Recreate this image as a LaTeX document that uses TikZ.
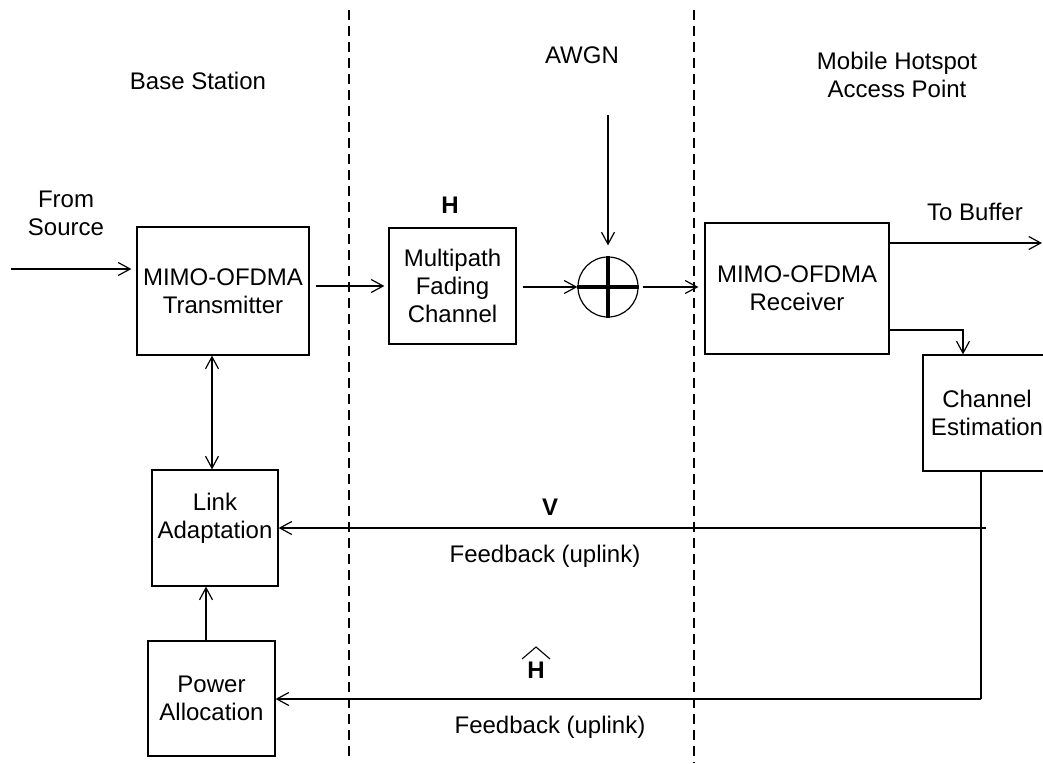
\documentclass[tikz,border=0pt]{standalone}
\usepackage{fontspec}
\setmainfont{Liberation Sans}
\usetikzlibrary{arrows.meta}
\tikzset{
  block/.style={draw, line width=1.2pt, align=center, inner sep=0pt},
  flow/.style={-{Straight Barb[length=12pt,width=13pt]}, line width=1.2pt},
  biflow/.style={{Straight Barb[length=12pt,width=13pt]}-{Straight Barb[length=12pt,width=13pt]}, line width=1.2pt},
  border/.style={dash pattern=on 10pt off 6pt, line width=1.2pt},
}
\begin{document}
\begin{tikzpicture}[x=1pt, y=-1pt, font=\fontsize{24}{28}\selectfont]
  \useasboundingbox (0,0) rectangle (1043,763);
  \clip (0,0) rectangle (1043,763);
  \draw[border] (349,10) -- (349,758);
  \draw[border] (694,10) -- (694,763);
  \draw
    (223,291) node[block, minimum width=172pt, minimum height=128pt] (tx) {MIMO-OFDMA\\Transmitter}
    (452.5,286) node[block, minimum width=127pt, minimum height=116pt] (chan) {Multipath\\Fading\\Channel}
    (608,287) node[draw, circle, line width=1.2pt, minimum size=60pt, inner sep=0pt] (sum) {}
    (797,288.5) node[block, minimum width=184pt, minimum height=131pt] (rx) {MIMO-OFDMA\\Receiver}
    (987,413) node[block, minimum width=128pt, minimum height=116pt] (est) {Channel\\Estimation}
    (215,528) node[block, minimum width=126pt, minimum height=116pt] (link) {Link\\Adaptation\\[-4pt]}
    (211.5,698.5) node[block, minimum width=127pt, minimum height=115pt] (pwr) {Power\\Allocation};
  \node (bs) at (198,81) {Base Station};
  \node (awgn) at (582,55) {AWGN};
  \node[align=center] (ap) at (897,75) {Mobile Hotspot\\Access Point};
  \node[align=center] (from) at (66,213) {From\\Source};
  \node (hlab) at (450,205) {\bfseries H};
  \node (tobuf) at (975,212) {To Buffer};
  \node (vlab) at (550,507) {\bfseries V};
  \node (fb1) at (545,556) {Feedback (uplink)};
  \node (hhat) at (536,670) {\bfseries H};
  \node (fb2) at (550,727) {Feedback (uplink)};
  \draw[line width=1.1pt] ([shift={(-14,-11)}]hhat.center) -- ([shift={(0,-23)}]hhat.center) -- ([shift={(14,-11)}]hhat.center);
  \coordinate (src) at (11,269);
  \coordinate (noise) at (608,115);
  \coordinate (buf) at (1042,243);
  \coordinate (tap) at (963,330);
  \coordinate (fbr) at (986,528);
  \coordinate (fbh) at (981,699);
  \begin{scope}[flow]
    \draw[line width=4.5pt, -] (sum.north) -- (sum.south) (sum.west) -- (sum.east);
    \draw[shorten >=5pt] (src) -- (src -| tx.west);
    \draw[shorten <=6pt, shorten >=4pt] (tx.east |- chan.west) -- (chan.west);
    \draw[shorten <=6pt] (chan.east |- sum.west) -- (sum.west);
    \draw[shorten >=11pt] (noise) -- (sum.north);
    \draw[shorten <=4pt, shorten >=6pt] (sum.east) -- (sum.east -| rx.west);
    \draw (rx.east |- buf) -- (buf);
    \draw (rx.east |- tap) -- (tap) -- (tap |- est.north);
    \draw[-] (est.south -| fbh) -- (fbh);
    \draw (fbr) -- (link.east);
    \draw (fbh) -- (fbh -| pwr.east);
    \draw[biflow] ([xshift=-11pt]tx.south) -- ([xshift=-11pt]tx.south |- link.north);
    \draw ([xshift=-5.5pt]pwr.north) -- ([xshift=-5.5pt]pwr.north |- link.south);
  \end{scope}
\end{tikzpicture}
\end{document}
